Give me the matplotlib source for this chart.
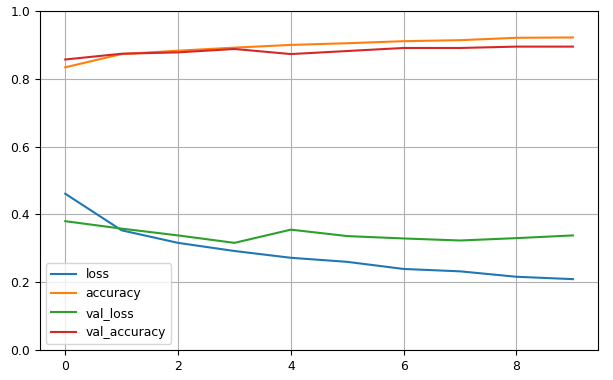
import matplotlib
matplotlib.use("Agg")
import matplotlib.pyplot as plt
import pandas as pd

epochs = list(range(10))
loss = [0.461, 0.353, 0.316, 0.292, 0.272, 0.260, 0.239, 0.232, 0.216, 0.209]
accuracy = [0.834, 0.873, 0.883, 0.892, 0.900, 0.905, 0.911, 0.914, 0.921, 0.922]
val_loss = [0.380, 0.358, 0.338, 0.316, 0.355, 0.336, 0.329, 0.323, 0.330, 0.338]
val_accuracy = [0.857, 0.874, 0.878, 0.888, 0.873, 0.882, 0.891, 0.891, 0.895, 0.895]

plt.rcParams['font.size'] = 8.9

history = pd.DataFrame({
    "loss": loss,
    "accuracy": accuracy,
    "val_loss": val_loss,
    "val_accuracy": val_accuracy,
}, index=epochs)

fig = plt.figure(figsize=(6.13, 3.8), dpi=100)
ax = fig.add_axes([0.065, 0.079, 0.911, 0.892])
history.plot(ax=ax)
ax.grid(True)
ax.set_ylim(0, 1)
ax.legend(loc="lower left")

fig.savefig("out.png", dpi=100)
